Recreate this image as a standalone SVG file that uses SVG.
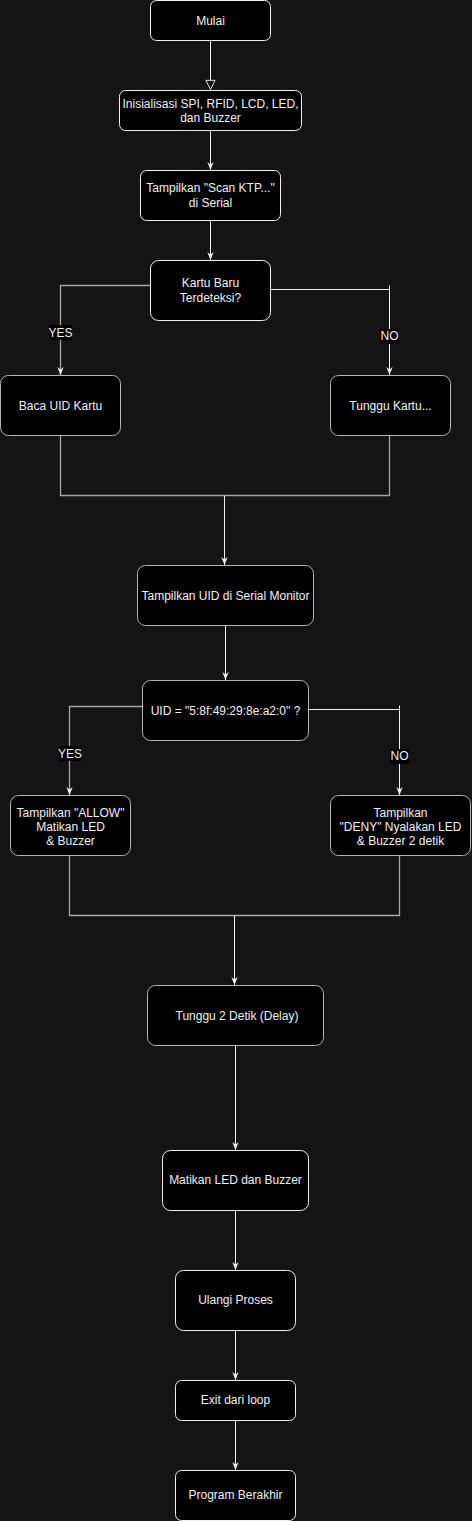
<svg xmlns="http://www.w3.org/2000/svg" width="472" height="1521" viewBox="0 0 472 1521">
<style>
.n rect{fill:#000;stroke:#f0f0f0;stroke-width:1}
.g rect{fill:#000;stroke:#b4b4b4;stroke-width:1}
text{font-family:"Liberation Sans",Arial,sans-serif;font-size:12px;fill:#f0f0f0;text-anchor:middle;dominant-baseline:central}
.c{fill:none;stroke:#f0f0f0;stroke-width:1}
.cg{fill:none;stroke:#a6a6a6;stroke-width:1.3}
.lb{fill:#000}
</style>
<defs>
<marker id="a" viewBox="0 0 10 10" refX="10" refY="5" markerWidth="8" markerHeight="8" markerUnits="userSpaceOnUse" orient="auto">
<path d="M0,1 L10,5 L0,9 L3,5 Z" fill="#f0f0f0"/>
</marker>
<marker id="o" viewBox="0 0 12 12" refX="11" refY="6" markerWidth="11" markerHeight="11" markerUnits="userSpaceOnUse" orient="auto">
<path d="M1,1 L11,6 L1,11 Z" fill="#141414" stroke="#f0f0f0" stroke-width="1"/>
</marker>
</defs>
<rect width="472" height="1521" fill="#141414"/>
<g id="connectors">
<path class="c" d="M210.5,40.5 V89.5" marker-end="url(#o)"/>
<path class="c" d="M210.5,130.5 V170" marker-end="url(#a)"/>
<path class="c" d="M210.5,220.5 V260" marker-end="url(#a)"/>
<path class="cg" d="M150.5,285.5 H60.5 V375" marker-end="url(#a)"/>
<path class="c" d="M270.5,289.5 H389.5 M389.5,285.5 V375" marker-end="url(#a)"/>
<path class="cg" d="M60.5,435.5 V495.5 H389.5 V435.5"/>
<path class="c" d="M224.5,495.5 V565" marker-end="url(#a)"/>
<path class="c" d="M225.5,625.5 V680" marker-end="url(#a)"/>
<path class="cg" d="M142.5,706.5 H69.5 V795" marker-end="url(#a)"/>
<path class="c" d="M308.5,709.5 H399.5 M399.5,705.5 V795" marker-end="url(#a)"/>
<path class="cg" d="M69.5,855.5 V915.5 H399.5 V855.5"/>
<path class="c" d="M234.5,915.5 V985" marker-end="url(#a)"/>
<path class="c" d="M235.5,1045.5 V1150" marker-end="url(#a)"/>
<path class="c" d="M235.5,1210.5 V1270" marker-end="url(#a)"/>
<path class="c" d="M235.5,1330.5 V1380" marker-end="url(#a)"/>
<path class="c" d="M235.5,1420.5 V1470" marker-end="url(#a)"/>
<rect class="lb" x="49" y="325" width="23" height="15"/>
<text x="60.5" y="332.5">YES</text>
<rect class="lb" x="380" y="329" width="19" height="15"/>
<text x="389.5" y="336">NO</text>
<rect class="lb" x="59" y="746" width="23" height="15"/>
<text x="70" y="753.5">YES</text>
<rect class="lb" x="390" y="749" width="19" height="15"/>
<text x="399.5" y="756">NO</text>
</g>
<g id="mulai" class="n"><rect x="150.5" y="0.5" width="120" height="40" rx="6"/><text x="210.5" y="20.5">Mulai</text></g>
<g id="init" class="n"><rect x="119.5" y="90.5" width="182" height="40" rx="6"/><text x="210.5" y="103.5">Inisialisasi SPI, RFID, LCD, LED,</text><text x="210.5" y="117.5">dan Buzzer</text></g>
<g id="scan" class="n"><rect x="140.5" y="170.5" width="140" height="50" rx="6"/><text x="210.5" y="188">Tampilkan "Scan KTP..."</text><text x="210.5" y="202.5">di Serial</text></g>
<g id="kartu" class="n"><rect x="150.5" y="260.5" width="120" height="60" rx="8"/><text x="210.5" y="283">Kartu Baru</text><text x="210.5" y="297.5">Terdeteksi?</text></g>
<g id="baca" class="g"><rect x="0.5" y="375.5" width="120" height="60" rx="8"/><text x="60.5" y="405.5">Baca UID Kartu</text></g>
<g id="tunggukartu" class="g"><rect x="330.5" y="375.5" width="120" height="60" rx="8"/><text x="390.5" y="405.5">Tunggu Kartu...</text></g>
<g id="tampiluid" class="g"><rect x="137.5" y="565.5" width="176" height="60" rx="8"/><text x="225.5" y="595.5">Tampilkan UID di Serial Monitor</text></g>
<g id="cekuid" class="g"><rect x="142.5" y="680.5" width="166" height="60" rx="8"/><text x="225.5" y="710.5">UID = "5:8f:49:29:8e:a2:0" ?</text></g>
<g id="allow" class="g"><rect x="10.5" y="795.5" width="120" height="60" rx="8"/><text x="70.5" y="812.5">Tampilkan "ALLOW"</text><text x="70.5" y="826.5">Matikan LED</text><text x="70.5" y="841">&amp; Buzzer</text></g>
<g id="deny" class="g"><rect x="330.5" y="795.5" width="140" height="60" rx="8"/><text x="400.5" y="812.5">Tampilkan</text><text x="400.5" y="826.5">"DENY" Nyalakan LED</text><text x="400.5" y="841">&amp; Buzzer 2 detik</text></g>
<g id="delay" class="g"><rect x="147.5" y="985.5" width="176" height="60" rx="8"/><text x="237" y="1016">Tunggu 2 Detik (Delay)</text></g>
<g id="matikan" class="n"><rect x="162.5" y="1150.5" width="146" height="60" rx="8"/><text x="235.5" y="1179.5">Matikan LED dan Buzzer</text></g>
<g id="ulangi" class="n"><rect x="175.5" y="1270.5" width="120" height="60" rx="8"/><text x="235.5" y="1299.5">Ulangi Proses</text></g>
<g id="exit" class="n"><rect x="175.5" y="1380.5" width="120" height="40" rx="6"/><text x="235.5" y="1399.5">Exit dari loop</text></g>
<g id="akhir" class="n"><rect x="175.5" y="1470.5" width="120" height="50" rx="6"/><text x="235.5" y="1495">Program Berakhir</text></g>
</svg>
